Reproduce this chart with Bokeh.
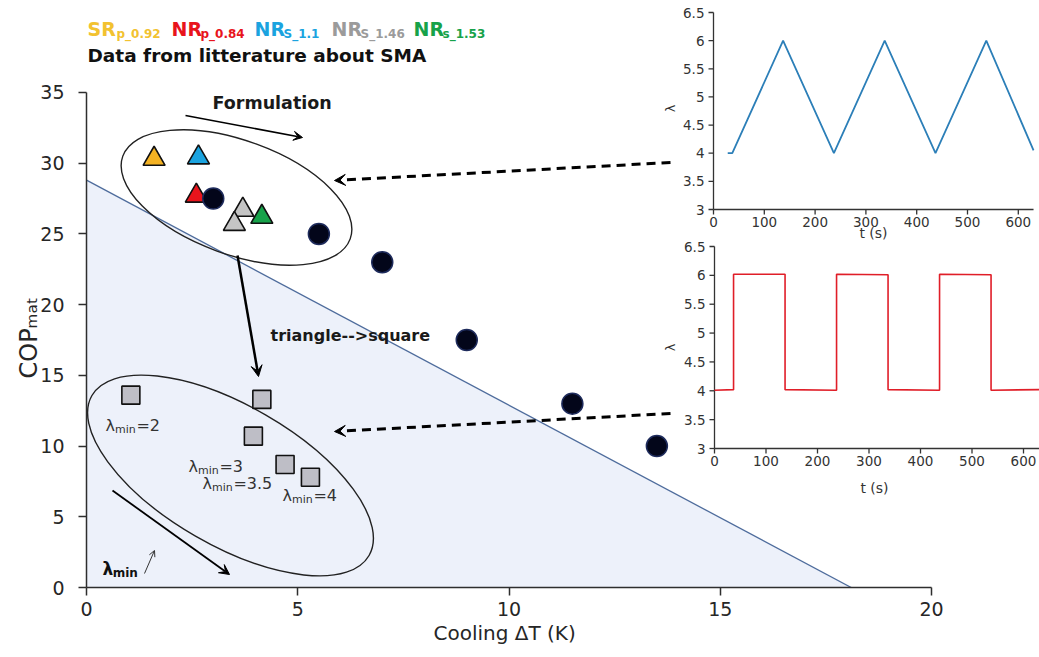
import numpy as np
from bokeh.plotting import figure
from bokeh.models import Range1d, FixedTicker, Label, Arrow, VeeHead, OpenHead, Title
from bokeh.embed import file_html
from bokeh.resources import INLINE
from bokeh.core.properties import value

# ---------------- data ----------------
tri_names = ["SR_p_0.92", "NR_p_0.84", "NR_S_1.1", "NR_S_1.46", "NR_S_1.46", "NR_s_1.53"]
tri_dT = [1.6, 2.65, 2.6, 3.7, 3.5, 4.15]
tri_cop = [30.3, 30.4, 27.7, 26.7, 25.7, 26.2]
tri_colors = ["#F4B223", "#1BA3DF", "#E8141C", "#C4C4C4", "#C4C4C4", "#17A24A"]

lit_dT = [3.0, 5.5, 7.0, 9.0, 11.5, 13.5]
lit_cop = [27.5, 25.0, 23.0, 17.5, 13.0, 10.0]

sq_dT = [1.05, 4.15, 3.95, 4.7, 5.3]
sq_cop = [13.6, 13.3, 10.7, 8.7, 7.8]

bound_dT = [0.0, 18.1]
bound_cop = [28.8, 0.0]

x_ticks = [0, 5, 10, 15, 20]
y_ticks = [0, 5, 10, 15, 20, 25, 30, 35]

# inset 1 (triangular lambda cycle)
tri_t = [28, 37, 137, 237, 337, 437, 537, 630]
tri_lam = [4.0, 4.0, 6.0, 4.0, 6.0, 4.0, 6.0, 4.05]
# inset 2 (square lambda cycle)
sqw_t = [0, 37, 37, 137, 137, 237, 237, 337, 337, 437, 437, 537, 537, 632]
sqw_lam = [4.01, 4.02, 6.02, 6.02, 4.02, 4.01, 6.02, 6.01, 4.02, 4.01, 6.02, 6.01, 4.01, 4.02]

inset_t_ticks = [0, 100, 200, 300, 400, 500, 600]
inset_lam_ticks = [3, 3.5, 4, 4.5, 5, 5.5, 6, 6.5]
inset_lam_labels = ["3", "3.5", "4", "4.5", "5", "5.5", "6", "6.5"]

# ---------------- layout (pixels) ----------------
W, H = 1039, 657
FL, FB = 86, 70              # frame left / bottom borders
X0PX, XS = 86, 42.25         # main x: px of 0, px per unit
Y0PX, YS = 587, 14.143       # main y: px of 0, px per unit


def X(px):
    return (px - X0PX) / XS


def Y(py):
    return (Y0PX - py) / YS


FONT = "DejaVu Sans"

p = figure(width=W, height=H,
           x_range=Range1d(X(FL), X(W)), y_range=Range1d(Y(H - FB), Y(0)),
           output_backend="svg", toolbar_location=None,
           min_border_left=FL, min_border_right=0, min_border_top=0, min_border_bottom=FB)
p.outline_line_color = None
p.xgrid.visible = False
p.ygrid.visible = False
p.background_fill_color = "white"

for ax, ticks, bnd in ((p.xaxis[0], x_ticks, (0, 20)), (p.yaxis[0], y_ticks, (0, 35))):
    ax.ticker = FixedTicker(ticks=ticks)
    ax.bounds = bnd
    ax.axis_line_color = "#2e2e2e"
    ax.axis_line_width = 1.5
    ax.major_tick_line_color = "#2e2e2e"
    ax.major_tick_line_width = 1.5
    ax.major_tick_out = 8
    ax.major_tick_in = 0
    ax.minor_tick_line_color = None
    ax.major_label_text_font = FONT
    ax.major_label_text_font_size = "19px"
    ax.major_label_text_color = "#262626"
p.xaxis.major_label_standoff = 6
p.yaxis.major_label_standoff = 14

# axis titles placed as side titles so they can sit at the reference positions
p.add_layout(Title(text="Cooling ΔT (K)", align="left", offset=433 - FL, standoff=1,
                   text_font=FONT, text_font_size="20px", text_font_style="normal",
                   text_color="#262626"), "below")
p.add_layout(Title(text="COPₘₐₜ", align="left", offset=587 - 378, standoff=-11,
                   text_font=FONT, text_font_size="24px", text_font_style="normal",
                   text_color="#262626"), "left")


def lab(px, py, text, size, color="#1a1a1a", bold=False, angle=0.0, align="left", baseline="alphabetic"):
    p.add_layout(Label(x=X(px), y=Y(py), text=text, text_font=FONT,
                       text_font_size=f"{size}px", text_color=color,
                       text_font_style="bold" if bold else "normal",
                       angle=angle, text_align=align, text_baseline=baseline))


# ---------------- main chart ----------------
p.patch(x=[bound_dT[0]] + bound_dT, y=[0.0] + bound_cop, fill_color="#EDF1FA", line_color=None)
p.line(x=bound_dT, y=bound_cop, line_color="#4E6C9C", line_width=1.3)

# ellipses
p.ellipse(x=[X(236)], y=[Y(197)], width=[242], height=[114], width_units="screen", height_units="screen",
          angle=[np.radians(-20)], fill_color=None, line_color="#222222", line_width=1.4)
p.ellipse(x=[X(230)], y=[Y(475)], width=[320], height=[140], width_units="screen", height_units="screen",
          angle=[np.radians(-30)], fill_color=None, line_color="#222222", line_width=1.4)

p.scatter(x=tri_dT, y=tri_cop, marker="triangle", size=22, fill_color=tri_colors,
          line_color="#111111", line_width=1.6)
p.scatter(x=lit_dT, y=lit_cop, marker="circle", size=21, fill_color="#03061A",
          line_color="#1E2B5C", line_width=1.5)
p.scatter(x=sq_dT, y=sq_cop, marker="square", size=18, fill_color="#BEBEC6",
          line_color="#111111", line_width=1.6)

# arrows
def arrow(p0, p1, width=1.6, dash="solid", head=10):
    p.add_layout(Arrow(end=VeeHead(size=head, fill_color="black", line_color="black"),
                       x_start=X(p0[0]), y_start=Y(p0[1]), x_end=X(p1[0]), y_end=Y(p1[1]),
                       line_width=width, line_color="black", line_dash=dash))

arrow((185, 115), (302, 137), width=1.6, head=9)
arrow((670, 162), (334, 180), width=3, dash="9 6", head=11)
arrow((670, 413), (334, 431), width=3, dash="9 6", head=11)
arrow((237, 255), (258, 376), width=2.5, head=11)
arrow((112, 490), (229, 574), width=1.8, head=10)
p.add_layout(Arrow(end=OpenHead(size=6, line_color="#333333", line_width=1),
                   x_start=X(144), y_start=Y(573), x_end=X(154), y_end=Y(550),
                   line_width=1, line_color="#333333"))

# texts
lab(212, 102, "Formulation", 17.5, bold=True)
lab(270, 335, "triangle-->square", 16, bold=True)

def lam(px, py, rest, size=16, bold=False, color="#333333"):
    lab(px, py, "λ", size, color=color, bold=bold)
    lab(px + 0.6 * size, py + 4, "min", round(size * 0.7), color=color, bold=bold)
    if rest:
        lab(px + 0.6 * size + 1.9 * size * 0.7, py, rest, size, color=color, bold=bold)

lam(105, 425, "=2")
lam(188, 466, "=3")
lam(202, 483, "=3.5")
lam(282, 495, "=4")
lam(102, 568, "", size=17, bold=True, color="#111111")

# legend text
leg = [(87, "SR", "p_0.92", "#F2C230"), (171, "NR", "p_0.84", "#E8141C"),
       (254, "NR", "S_1.1", "#1BA3DF"), (331, "NR", "S_1.46", "#9B9B9B"),
       (413, "NR", "s_1.53", "#17A24A")]
for x0, main, sub, col in leg:
    lab(x0, 28, main, 19, color=col, bold=True)
    lab(x0 + 29, 33, sub, 12, color=col, bold=True)
lab(87, 55, "Data from litterature about SMA", 18.5, bold=True, color="#111111")

# ---------------- insets ----------------
def add_inset(name, t0px, tscale, lam3py, lam65py, t_end, tlabel_py, lam_py, xs, ys, color, lw):
    lscale = (lam3py - lam65py) / 3.5
    p.extra_x_ranges[name + "x"] = Range1d((FL - t0px) / tscale, (W - t0px) / tscale)
    p.extra_y_ranges[name + "y"] = Range1d(3 - ((H - FB) - lam3py) / lscale, 3 + lam3py / lscale)
    kw = dict(x_range_name=name + "x", y_range_name=name + "y")
    ax_col = "#333333"
    lo, hi = inset_lam_ticks[0], inset_lam_ticks[-1]
    p.line(x=[0, 0], y=[lo, hi], line_color=ax_col, line_width=1.3, **kw)
    p.line(x=[0, t_end], y=[lo, lo], line_color=ax_col, line_width=1.3, **kw)
    tk = 5 / tscale
    lk = 5 / lscale
    p.segment(x0=[0] * len(inset_lam_ticks), y0=inset_lam_ticks, x1=[-tk] * len(inset_lam_ticks),
              y1=inset_lam_ticks, line_color=ax_col, line_width=1.3, **kw)
    p.segment(x0=inset_t_ticks, y0=[lo] * len(inset_t_ticks), x1=inset_t_ticks,
              y1=[lo - lk] * len(inset_t_ticks), line_color=ax_col, line_width=1.3, **kw)
    p.text(x=[0] * len(inset_lam_ticks), y=inset_lam_ticks, text=inset_lam_labels, x_offset=-9,
           text_align="right", text_baseline="middle", text_font=value(FONT),
           text_font_size=value("13.5px"), text_color="#333333", **kw)
    p.text(x=inset_t_ticks, y=[lo] * len(inset_t_ticks), text=[str(v) for v in inset_t_ticks],
           y_offset=7, text_align="center", text_baseline="top", text_font=value(FONT),
           text_font_size=value("13.5px"), text_color="#333333", **kw)
    p.line(x=xs, y=ys, line_color=color, line_width=lw, **kw)
    lab(t0px + 160, tlabel_py, "t (s)", 14, color="#333333", align="center", baseline="middle")
    lab(670, lam_py, "λ", 13, color="#333333", angle=np.pi / 2, align="center", baseline="middle")


add_inset("a", 713, 0.508, 209, 12, 630, 232, 108, tri_t, tri_lam, "#2C7FB8", 1.8)
add_inset("b", 714, 0.515, 448, 246, 632, 487, 347, sqw_t, sqw_lam, "#E01E28", 1.6)

open("out.html", "w").write(file_html(p, INLINE))
